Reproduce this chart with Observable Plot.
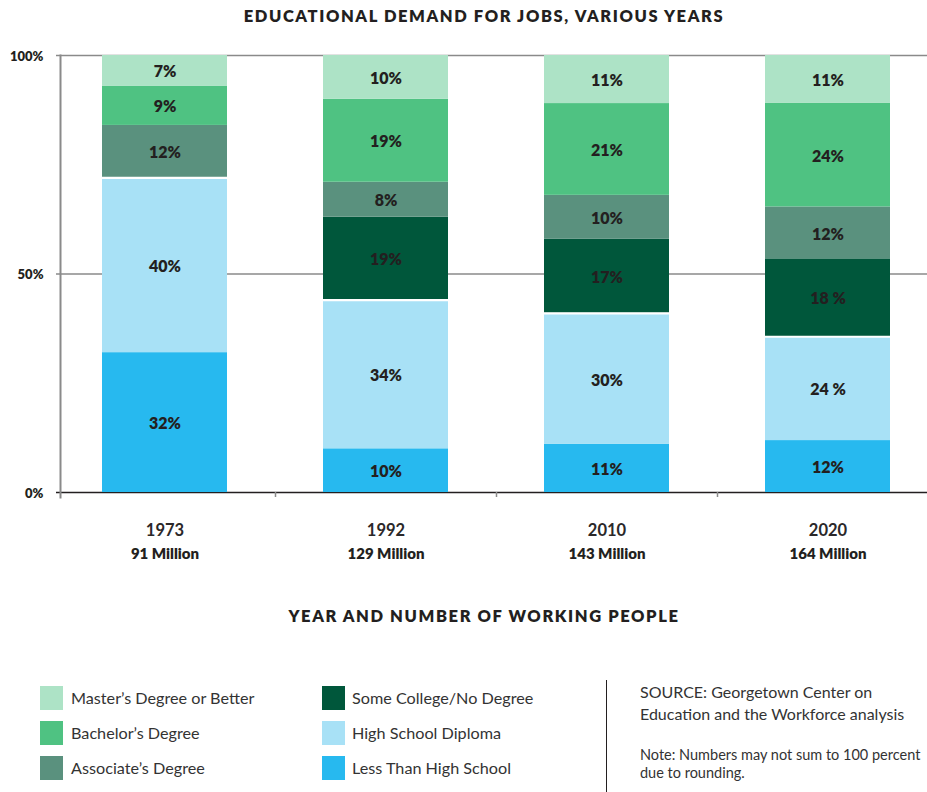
<!DOCTYPE html>
<html>
<head>
<meta charset="utf-8">
<script src="https://cdn.jsdelivr.net/npm/d3@7"></script>
<script src="https://cdn.jsdelivr.net/npm/@observablehq/plot@0.6"></script>
<style>
  body { margin: 0; background: #fff; font-family: Lato, "Open Sans", sans-serif; color: #231f20; }
  #wrap { position: relative; width: 927px; height: 792px; overflow: hidden; }
  .abs { position: absolute; white-space: nowrap; }
  #title { left: 0; width: 968px; top: 6px; text-align: center; font-weight: 800; font-size: 16.5px; letter-spacing: 1.6px; }
  #chart { position: absolute; left: 0; top: 35px; }
  #xtitle { left: 0; width: 968px; top: 606px; text-align: center; font-weight: 800; font-size: 16.5px; letter-spacing: 1.6px; }
  .sw { position: absolute; width: 23px; height: 24px; }
  .lt { position: absolute; font-size: 16.2px; line-height: 24px; color: #333; }
  #divider { left: 606px; top: 680px; width: 1px; height: 112px; background: #231f20; }
  #source { left: 640px; top: 681px; font-size: 16px; line-height: 22px; color: #333; }
  #note { left: 640px; top: 746px; font-size: 14.5px; line-height: 18px; color: #333; }
</style>
</head>
<body>
<div id="wrap">
  <div id="title" class="abs">EDUCATIONAL DEMAND FOR JOBS, VARIOUS YEARS</div>
  <div id="chart"></div>
  <div id="xtitle" class="abs">YEAR AND NUMBER OF WORKING PEOPLE</div>
  <div id="legend"></div>
  <div id="divider" class="abs"></div>
  <div id="source" class="abs">SOURCE: Georgetown Center on<br>Education and the Workforce analysis</div>
  <div id="note" class="abs">Note: Numbers may not sum to 100 percent<br>due to rounding.</div>
</div>
<script>
// ---- data ----
const years = ["1973", "1992", "2010", "2020"];
const workers = ["91 Million", "129 Million", "143 Million", "164 Million"];
// education levels, bottom of the stack first
const levels = [
  "Less Than High School",
  "High School Diploma",
  "Some College/No Degree",
  "Associate’s Degree",
  "Bachelor’s Degree",
  "Master’s Degree or Better"
];
const colors = ["#27b9ef", "#a8e1f6", "#00573b", "#5a917e", "#4fc282", "#ade3c6"];
const lessThanHighSchool = [32, 10, 11, 12];
const highSchoolDiploma  = [40, 34, 30, 24];
const someCollege        = [null, 19, 17, 18];
const associates         = [12, 8, 10, 12];
const bachelors          = [9, 19, 21, 24];
const masters            = [7, 10, 11, 11];
// cells whose printed label has a space before the % sign
const spacedLabels = [["2020", "High School Diploma"], ["2020", "Some College/No Degree"]];
// legend layout: two columns, top to bottom
const legendColumns = [
  ["Master’s Degree or Better", "Bachelor’s Degree", "Associate’s Degree"],
  ["Some College/No Degree", "High School Diploma", "Less Than High School"]
];

const series = [lessThanHighSchool, highSchoolDiploma, someCollege, associates, bachelors, masters];
const rows = [];
years.forEach((year, i) => {
  levels.forEach((level, j) => {
    const value = series[j][i];
    if (value == null) return;
    const spaced = spacedLabels.some(([y, l]) => y === year && l === level);
    rows.push({year, level, value, label: spaced ? `${value} %` : `${value}%`});
  });
});

const stackOpts = {x: "year", y: "value", z: "level", order: levels, offset: "normalize"};
const ink = "#231f20";
const font = "Lato, 'Open Sans', sans-serif";

const chart = Plot.plot({
  width: 927,
  height: 540,
  marginTop: 20,
  marginBottom: 83,
  marginLeft: 60,
  marginRight: 0,
  style: {fontFamily: font, color: ink, background: "transparent", overflow: "visible"},
  x: {domain: years, range: [54, 938], paddingInner: 0.434, paddingOuter: 0.217, axis: null},
  y: {domain: [0, 1], axis: null},
  color: {domain: levels, range: colors},
  marks: [
    Plot.ruleY([0.5, 1], {stroke: "#8a8a8a", strokeWidth: 1.5, insetLeft: -4}),
    Plot.ruleY([0], {stroke: ink, strokeWidth: 1.6, insetLeft: -4}),
    Plot.frame({anchor: "left", stroke: "#8a8a8a", strokeWidth: 2, insetBottom: -5}),
    Plot.axisX({ticks: years.slice(0, -1), tickSize: 5, tickFormat: () => "", label: null,
      dx: 110.5, stroke: "#8a8a8a", strokeWidth: 1.5}),
    Plot.barY(rows, Plot.stackY({...stackOpts, fill: "level"})),
    Plot.tickY(rows, Plot.stackY2({...stackOpts, stroke: "white", strokeWidth: 2.2,
      strokeOpacity: d => d.level === "High School Diploma" ? 1 : 0})),
    Plot.text(rows, Plot.stackY({...stackOpts, text: "label", fill: ink, fontWeight: 800,
      fontSize: 16, dy: 1.5})),
    Plot.axisY({ticks: [0, 0.5, 1], tickFormat: d3.format(".0%"), tickSize: 0, tickPadding: 17,
      label: null, fontWeight: 800, fontSize: 13, fill: ink, dy: 1}),
    Plot.axisX({tickSize: 0, tickPadding: 32, fontSize: 16.5, fontWeight: 700, fill: "#2b2829", label: null}),
    Plot.axisX({tickSize: 0, tickPadding: 56, fontSize: 15, fontWeight: 800, fill: ink, label: null,
      tickFormat: y => workers[years.indexOf(y)]})
  ]
});
document.getElementById("chart").appendChild(chart);

// ---- legend ----
const legend = document.getElementById("legend");
const colX = [[40, 71], [322, 352]];
const rowY = [686, 721, 756];
legendColumns.forEach((col, c) => {
  col.forEach((level, r) => {
    const sw = document.createElement("div");
    sw.className = "sw";
    sw.style.left = colX[c][0] + "px";
    sw.style.top = rowY[r] + "px";
    sw.style.background = colors[levels.indexOf(level)];
    legend.appendChild(sw);
    const t = document.createElement("div");
    t.className = "lt abs";
    t.style.left = colX[c][1] + "px";
    t.style.top = rowY[r] + "px";
    t.textContent = level;
    legend.appendChild(t);
  });
});
</script>
</body>
</html>
